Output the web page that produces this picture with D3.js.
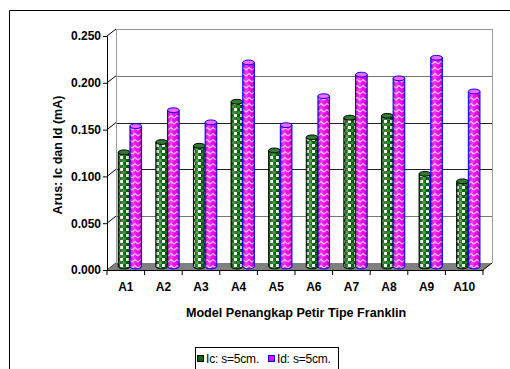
<!DOCTYPE html>
<html>
<head>
<meta charset="utf-8">
<script src="https://cdn.jsdelivr.net/npm/d3@7"></script>
<style>
  html, body { margin: 0; padding: 0; background: #fff; }
  svg { display: block; font-family: "Liberation Sans", Arial, sans-serif; }
</style>
</head>
<body>
<svg id="chart" width="510" height="369"></svg>
<script>
// Arus Ic dan Id per model penangkap petir (mA)
const categories = ["A1", "A2", "A3", "A4", "A5", "A6", "A7", "A8", "A9", "A10"];
const seriesNames = ["Ic: s=5cm.", "Id: s=5cm."];
const icValues = [0.122, 0.133, 0.129, 0.176, 0.124, 0.138, 0.159, 0.161, 0.099, 0.091];
const idValues = [0.150, 0.167, 0.154, 0.218, 0.151, 0.182, 0.205, 0.201, 0.223, 0.187];
const yTicks = [0, 0.05, 0.10, 0.15, 0.20, 0.25];

const svg = d3.select("#chart");

// plot frame (front plane) and 3D depth offset of the back wall
const plotLeft = 107, plotRight = 483, plotBottom = 270, plotTop = 36;
const depthX = 9, depthY = -7;
const barDX = depthX / 2, barDY = depthY / 2;

const y = d3.scaleLinear().domain([0, 0.25]).range([plotBottom, plotTop]);
const x = d3.scaleBand().domain(categories).range([plotLeft, plotRight]);
const x1 = d3.scaleBand().domain(seriesNames)
  .range([x.bandwidth() * 0.18, x.bandwidth() * 0.80]);

// ---- patterns and shading ----
const defs = svg.append("defs");

const pg = defs.append("pattern").attr("id", "patGreen")
  .attr("patternUnits", "userSpaceOnUse").attr("width", 6).attr("height", 6);
pg.append("rect").attr("width", 6).attr("height", 6).attr("fill", "#006400");
pg.append("rect").attr("x", 0).attr("y", 0).attr("width", 3).attr("height", 3).attr("fill", "#ffffff");
pg.append("circle").attr("cx", 4.5).attr("cy", 4.5).attr("r", 1.6).attr("fill", "#2f9a2f");

const pp = defs.append("pattern").attr("id", "patPink")
  .attr("patternUnits", "userSpaceOnUse").attr("width", 6).attr("height", 6);
pp.append("rect").attr("width", 6).attr("height", 6).attr("fill", "#ff00ff");
pp.append("path").attr("d", "M0,4 L3,1.5 L6,4").attr("fill", "none")
  .attr("stroke", "#ffd0ff").attr("stroke-width", 1.1);

const shade = defs.append("linearGradient").attr("id", "cylShade")
  .attr("x1", "0%").attr("x2", "100%").attr("y1", "0%").attr("y2", "0%");
shade.append("stop").attr("offset", "0%").attr("stop-color", "#000").attr("stop-opacity", 0.35);
shade.append("stop").attr("offset", "35%").attr("stop-color", "#fff").attr("stop-opacity", 0.25);
shade.append("stop").attr("offset", "70%").attr("stop-color", "#000").attr("stop-opacity", 0.0);
shade.append("stop").attr("offset", "100%").attr("stop-color", "#000").attr("stop-opacity", 0.4);

// ---- outer chart border ----
svg.append("path").attr("d", "M9.5,369 L9.5,10.5 L510,10.5")
  .attr("fill", "none").attr("stroke", "#000").attr("stroke-width", 1);

// ---- back wall, left wall and gridlines ----
const wall = svg.append("g");
yTicks.forEach(t => {
  const yy = Math.round(y(t) + depthY) + 0.5;
  if (t > 0) {
    wall.append("line")
      .attr("x1", plotLeft + depthX).attr("x2", plotRight + depthX)
      .attr("y1", yy).attr("y2", yy)
      .attr("stroke", t === 0.25 ? "#999" : (t === 0.15 || t === 0.10 ? "#222" : "#777"))
      .attr("stroke-width", 1);
  }
  // diagonal from the axis tick to the back wall
  wall.append("line")
    .attr("x1", plotLeft).attr("y1", y(t))
    .attr("x2", plotLeft + depthX).attr("y2", y(t) + depthY)
    .attr("stroke", "#000").attr("stroke-width", 1);
});
wall.append("line").attr("x1", plotLeft + depthX + 0.5).attr("x2", plotLeft + depthX + 0.5)
  .attr("y1", y(0.25) + depthY).attr("y2", plotBottom + depthY)
  .attr("stroke", "#999");
wall.append("line").attr("x1", plotRight + depthX + 0.5).attr("x2", plotRight + depthX + 0.5)
  .attr("y1", y(0.25) + depthY).attr("y2", plotBottom + depthY)
  .attr("stroke", "#999");

// ---- floor ----
svg.append("polygon")
  .attr("points", [[plotLeft, plotBottom], [plotRight, plotBottom], [plotRight + depthX, plotBottom + depthY], [plotLeft + depthX, plotBottom + depthY]].join(" "))
  .attr("fill", "#808080");
svg.append("line").attr("x1", plotRight).attr("y1", plotBottom)
  .attr("x2", plotRight + depthX).attr("y2", plotBottom + depthY)
  .attr("stroke", "#000");

// ---- cylinders ----
const seriesData = [
  { name: seriesNames[0], values: icValues, fill: "url(#patGreen)", stroke: "#000", topFill: "#2e7d2e" },
  { name: seriesNames[1], values: idValues, fill: "url(#patPink)", stroke: "#0000ff", topFill: "#ff66ff" }
];

const bars = svg.append("g");
categories.forEach((c, i) => {
  seriesData.forEach(s => {
    const v = s.values[i];
    const w = x1.bandwidth();
    const x0 = x(c) + x1(s.name) + barDX;
    const yv = y(v) + barDY;
    const yb = y(0) + barDY;
    const cx = x0 + w / 2;
    const ry = 2.4;
    const g = bars.append("g");
    const body = `M${x0},${yv} L${x0},${yb} A${w / 2},${ry} 0 0 0 ${x0 + w},${yb} L${x0 + w},${yv} Z`;
    g.append("path").attr("d", body).attr("fill", s.fill);
    g.append("path").attr("d", body).attr("fill", "url(#cylShade)")
      .attr("stroke", s.stroke).attr("stroke-width", 1);
    g.append("ellipse").attr("cx", cx).attr("cy", yv).attr("rx", w / 2).attr("ry", ry)
      .attr("fill", s.topFill).attr("stroke", s.stroke).attr("stroke-width", 1);
  });
});

// ---- axes ----
const yAxis = svg.append("g").attr("transform", `translate(${plotLeft},0)`)
  .call(d3.axisLeft(y).tickValues(yTicks).tickFormat(d3.format(".3f")).tickSize(4).tickPadding(2));
yAxis.select(".domain").attr("stroke", "#000");
yAxis.selectAll("text").attr("font-size", 12).attr("font-weight", "bold").attr("fill", "#000")
  .attr("font-family", "Liberation Sans, Arial, sans-serif");

const xAxis = svg.append("g").attr("transform", `translate(0,${plotBottom})`)
  .call(d3.axisBottom(x).tickSize(0).tickPadding(12));
xAxis.select(".domain").attr("stroke", "#000");
xAxis.selectAll("text").attr("font-size", 12).attr("font-weight", "bold").attr("fill", "#000")
  .attr("font-family", "Liberation Sans, Arial, sans-serif");
// category boundary ticks
xAxis.selectAll(".bound").data(categories.concat(["end"])).enter().append("line")
  .attr("class", "bound")
  .attr("x1", d => d === "end" ? plotRight : x(d)).attr("x2", d => d === "end" ? plotRight : x(d))
  .attr("y1", 0).attr("y2", 5).attr("stroke", "#000");

// ---- axis titles ----
svg.append("text")
  .attr("transform", "translate(62,155) rotate(-90)")
  .attr("text-anchor", "middle")
  .attr("font-size", 12.5).attr("font-weight", "bold")
  .text("Arus: Ic dan Id (mA)");

svg.append("text")
  .attr("x", 296).attr("y", 317)
  .attr("text-anchor", "middle")
  .attr("font-size", 12.6).attr("font-weight", "bold")
  .text("Model Penangkap Petir Tipe Franklin");

// ---- legend ----
const legend = svg.append("g");
legend.append("rect").attr("x", 195.5).attr("y", 347.5).attr("width", 143).attr("height", 30)
  .attr("fill", "#fff").attr("stroke", "#000");
const legendItems = [
  { name: seriesNames[0], x: 197, fill: "#006a00", stroke: "#000" },
  { name: seriesNames[1], x: 268, fill: "#ff00ff", stroke: "#0000ff" }
];
legendItems.forEach(it => {
  legend.append("rect").attr("x", it.x + 0.5).attr("y", 355.5).attr("width", 6).attr("height", 6)
    .attr("fill", it.fill).attr("stroke", it.stroke);
  legend.append("text").attr("x", it.x + 9).attr("y", 362.5)
    .attr("font-size", 12).attr("letter-spacing", -0.2).text(it.name);
});
</script>
</body>
</html>
